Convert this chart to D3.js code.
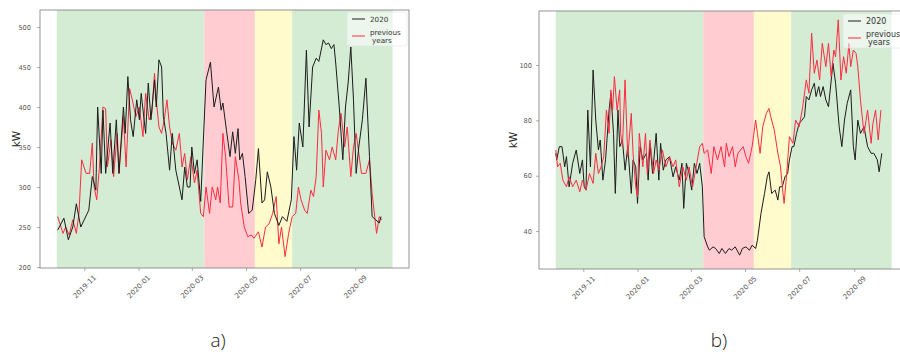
<!DOCTYPE html>
<html><head><meta charset="utf-8">
<script src="https://cdn.jsdelivr.net/npm/d3@7"></script>
<style>html,body{margin:0;padding:0;background:#fff;}svg{display:block;}</style>
</head><body>
<svg id="chart" width="900" height="357"></svg>
<script>
// ---- data (day offsets from 2019-10-01, values in kW) ----
const startDate = "2019-10-01";
const xTickLabels = ["2019-11", "2020-01", "2020-03", "2020-05", "2020-07", "2020-09"];
const periodBounds = [0, 166, 223, 265, 378];          // day offsets of the shaded periods
const periodNames = ["before", "lockdown", "phase2", "after"];
const seriesNames = ["2020", "previous\n years"];

const aYTicks = [200, 250, 300, 350, 400, 450, 500];
const a2020Day = [1,8,13,18,22,27,36,40,44,46,50,52,55,60,63,67,70,75,77,80,83,86,90,93,95,100,103,106,110,112,115,118,120,123,127,130,134,141,144,147,150,152,155,158,162,168,173,177,182,185,187,191,195,198,201,204,206,209,212,216,220,224,227,231,234,237,241,245,250,254,259,264,267,270,273,277,281,284,288,292,295,300,303,306,309,312,314,318,322,325,328,331,334,337,340,344,348,352,355,359,363,365];
const a2020Kw  = [246,261,234,250,279,250,271,313,296,400,317,396,317,380,317,384,317,400,367,438,384,363,409,384,417,367,430,384,434,400,459,450,388,367,321,367,321,284,325,300,300,350,317,334,282,434,456,400,425,396,405,371,338,369,342,373,334,342,313,267,271,309,348,280,284,319,300,267,252,263,257,284,363,321,380,350,471,375,450,461,457,484,478,480,473,478,455,400,334,400,430,475,409,317,350,384,436,338,263,259,255,263];
const aPrevDay = [1,7,10,14,18,22,25,28,33,37,40,42,45,48,52,55,57,61,64,68,70,75,78,82,85,89,93,97,100,104,107,110,112,115,118,121,124,127,130,134,138,141,144,147,151,155,158,162,165,168,172,175,179,181,184,187,190,194,198,201,205,207,211,215,219,222,227,231,235,239,243,247,250,253,257,261,265,269,272,275,279,282,286,289,292,295,298,300,303,307,310,314,317,320,324,327,331,334,337,340,343,348,352,355,360,363,366];
const aPrevKw  = [263,242,250,240,259,242,267,334,317,317,355,300,284,325,400,398,325,359,313,367,317,388,325,423,409,388,400,363,417,384,392,442,409,375,367,384,409,375,355,346,367,325,342,309,338,305,321,267,263,300,267,300,284,300,280,367,338,275,275,338,309,280,250,238,240,236,244,225,250,254,267,288,229,250,213,242,263,267,300,284,271,267,296,288,313,396,367,300,346,334,350,334,371,392,350,375,313,350,367,342,317,317,334,292,242,263,259];

const bYTicks = [40, 60, 80, 100];
const b2020Day = [0,1,4,7,10,12,15,19,23,27,30,32,34,36,39,42,45,48,50,53,56,60,62,65,67,70,72,75,78,81,85,87,90,92,95,98,102,104,106,109,113,116,118,121,124,128,132,135,139,142,144,147,150,153,156,159,162,165,167,171,173,177,180,184,187,191,195,198,202,207,210,214,218,221,225,227,231,235,238,240,243,247,250,252,255,258,261,263,266,268,271,274,277,280,282,285,288,291,293,296,298,301,304,307,312,315,319,322,325,328,332,335,337,340,343,347,351,355,358,362,364,367];
const b2020Kw  = [68.1,65.7,70.5,70.5,63.2,66.9,56,64.5,69.3,60.8,65.7,56,54.8,83.7,63.2,98.2,80.1,69.3,72.9,58.4,65.7,83.7,89.8,75.3,53.6,83.7,70.5,72.9,62,70.5,53.6,65.7,63.2,50,70.5,65.7,68.1,58.4,71.7,60.8,75.3,58.4,71.7,62,65.7,66.9,59.6,63.2,58.4,64.5,48.2,64.5,60.8,54.8,64.5,60.8,64.5,56,38,34.3,33.1,34.3,33.7,31.9,33.7,31.9,33.7,33.1,34.3,31.3,33.7,34.3,33.1,34.9,33.7,36.7,46.4,53.6,59.6,61.4,53.6,54.8,51.2,56,56,59.6,60.8,65.7,70.5,70.5,75.3,78.9,80,81.3,88.6,87.4,91,93.4,88.6,92.2,88.6,92.2,87.4,84.9,100.6,93.4,77.7,70.5,80.1,86.1,91,70.5,65.7,80.1,75.3,77.7,70.5,68.1,68.1,65.7,61.4,68.1];
const bPrevDay = [0,2,5,8,12,15,19,23,27,30,34,38,42,45,48,51,54,57,60,62,64,66,69,72,73,75,78,81,85,87,90,92,94,98,101,103,106,110,113,116,120,124,128,132,135,139,143,147,150,154,158,162,165,167,171,175,178,182,186,190,192,195,199,202,205,208,211,214,217,221,225,227,230,233,237,240,242,246,250,253,255,257,260,263,267,270,274,278,282,285,288,291,294,297,300,304,307,310,313,315,318,321,324,327,330,332,335,338,340,343,347,351,355,357,360,363,366];
const bPrevKw  = [69.3,63.2,64.5,58.4,56,59.6,56,58.4,54.2,58.4,54.8,60.8,57.2,68.1,60.8,63.2,66.9,83.7,75.3,91,83.7,95.8,83.7,91,75.3,70.5,94.6,66.9,82.5,68.1,56,52.4,75.3,63.2,75.3,60.8,72.9,60.8,65.7,62,69.3,63.2,66.9,63.2,65.7,56,63.2,58.4,63.2,56,63.2,70.5,71.7,68.1,69.3,60.8,70.5,65.7,70.5,63.2,71.7,66.9,70.5,63.2,68.1,69.3,70.5,66.9,64.5,70.5,80.1,75.3,68.1,77.7,82.5,84.3,81.3,76.5,68.1,63.2,56,50,60.8,74.1,71.7,80.1,77.7,84.9,94.6,89.8,111.5,97,101.8,94.6,107.8,99.4,107.8,95.8,105.4,103,116.3,94.6,103,97,107.8,99.4,105.4,104.2,99.4,87.4,75.3,83.7,71.7,78.9,83.7,72.9,83.7];

// ---- drawing ----
const svg = d3.select("#chart");
const base = d3.timeParse("%Y-%m-%d")(startDate);
const dayToDate = d => new Date(base.getTime() + d * 86400000);
const parseMonth = d3.timeParse("%Y-%m");
const periodColors = ["#d4ebd4", "#ffcdd1", "#fffbcc", "#d4ebd4"];
const lineColors = ["#1c1c1c", "#ff2a40"];

function panel(o) {
  const g = svg.append("g");
  const x = d3.scaleTime()
    .domain([dayToDate(-18.9), dayToDate(396.5)])
    .range([o.left, o.left + 369]);
  const y = d3.scaleLinear().domain(o.yDomain).range([o.bottom, o.top]);

  const clipId = "clip" + o.id;
  svg.append("clipPath").attr("id", clipId).append("rect")
    .attr("x", o.left).attr("y", o.top).attr("width", 369).attr("height", o.bottom - o.top);
  const plot = g.append("g").attr("clip-path", `url(#${clipId})`);

  // shaded periods
  periodNames.forEach((p, i) => {
    plot.append("rect")
      .attr("x", x(dayToDate(periodBounds[i])))
      .attr("width", x(dayToDate(periodBounds[i + 1])) - x(dayToDate(periodBounds[i])))
      .attr("y", o.top).attr("height", o.bottom - o.top)
      .attr("fill", periodColors[i]);
  });

  const line = d3.line().x(d => x(dayToDate(d[0]))).y(d => y(d[1]));
  o.series.forEach((s, i) => {
    plot.append("path")
      .datum(s.days.map((d, k) => [d, s.values[k]]))
      .attr("fill", "none")
      .attr("stroke", lineColors[s.color])
      .attr("stroke-width", 1)
      .attr("stroke-linejoin", "round")
      .attr("d", line);
  });

  // frame
  g.append("rect").attr("x", o.left).attr("y", o.top)
    .attr("width", 369).attr("height", o.bottom - o.top)
    .attr("fill", "none").attr("stroke", "#7a7a7a").attr("stroke-width", 0.8);

  // x axis
  const xAxis = d3.axisBottom(x)
    .tickValues(xTickLabels.map(parseMonth))
    .tickSize(3).tickFormat(d3.timeFormat("%Y-%m"));
  const xa = g.append("g").attr("transform", `translate(0,${o.bottom})`).call(xAxis);
  xa.select(".domain").remove();
  xa.selectAll("line").attr("stroke", "#777").attr("stroke-width", 0.6);
  xa.selectAll("text")
    .attr("font-family", "DejaVu Sans").attr("font-size", 7).attr("fill", "#555")
    .attr("text-anchor", "middle").attr("dy", null).attr("y", 0)
    .attr("dominant-baseline", "central")
    .attr("transform", "translate(0,19) rotate(-45)");

  // y axis
  const yAxis = d3.axisLeft(y).tickValues(o.yTicks).tickSize(3).tickPadding(o.yPad);
  const ya = g.append("g").attr("transform", `translate(${o.left},0)`).call(yAxis);
  ya.select(".domain").remove();
  ya.selectAll("line").attr("stroke", "#777").attr("stroke-width", 0.6);
  ya.selectAll("text").attr("font-family", "DejaVu Sans").attr("font-size", 6.6).attr("fill", "#555");

  g.append("text")
    .attr("transform", `translate(${o.ylabX},${(o.top + o.bottom) / 2}) rotate(-90)`)
    .attr("text-anchor", "middle").attr("dominant-baseline", "central")
    .attr("font-family", "DejaVu Sans").attr("font-size", 10.5).attr("fill", "#222")
    .text("kW");

  // legend
  const lg = g.append("g").attr("transform", `translate(${o.legX},${o.legY})`);
  lg.append("rect").attr("x", 0).attr("y", 0).attr("width", 60).attr("height", 34).attr("rx", 2)
    .attr("fill", "#fff").attr("fill-opacity", 0.55).attr("stroke", "#e4e4e4").attr("stroke-width", 0.6);
  const rows = [{y: 7, c: 0}, {y: 24, c: 1}];
  seriesNames.forEach((name, i) => {
    lg.append("line").attr("x1", 5).attr("x2", 18).attr("y1", rows[i].y).attr("y2", rows[i].y)
      .attr("stroke", lineColors[i]).attr("stroke-width", 1);
    const t = lg.append("text").attr("font-family", "DejaVu Sans").attr("font-size", o.legFont)
      .attr("fill", "#333");
    const parts = name.split("\n");
    if (parts.length === 1) {
      t.attr("x", 23).attr("y", rows[i].y).attr("dominant-baseline", "central").text(parts[0]);
    } else {
      t.append("tspan").attr("x", 23).attr("y", rows[i].y - 4).attr("dominant-baseline", "central").text(parts[0]);
      t.append("tspan").attr("x", 25).attr("y", rows[i].y + 4).attr("dominant-baseline", "central").text(parts[1].trim());
    }
  });

  // panel caption
  svg.append("text").attr("x", o.capX).attr("y", 347)
    .attr("text-anchor", "middle")
    .attr("font-family", "Open Sans").attr("font-weight", 300).attr("font-size", 19).attr("fill", "#222")
    .text(o.caption);
}

panel({
  id: "a", left: 40, top: 10, bottom: 268, yDomain: [198.75, 521.25], yTicks: aYTicks, yPad: 6,
  ylabX: 16, legX: 347, legY: 12, legFont: 7.2, capX: 218, caption: "a)",
  series: [
    {days: aPrevDay, values: aPrevKw, color: 1},
    {days: a2020Day, values: a2020Kw, color: 0}
  ]
});
panel({
  id: "b", left: 539, top: 11, bottom: 269, yDomain: [26.3, 119.5], yTicks: bYTicks, yPad: 4,
  ylabX: 513, legX: 843, legY: 14, legFont: 8, capX: 719, caption: "b)",
  series: [
    {days: b2020Day, values: b2020Kw, color: 0},
    {days: bPrevDay, values: bPrevKw, color: 1}
  ]
});
</script>
</body></html>
